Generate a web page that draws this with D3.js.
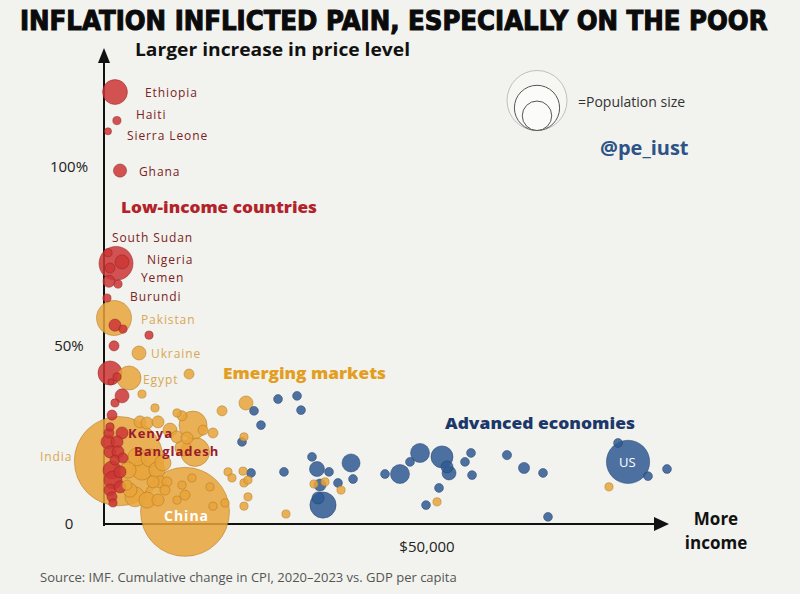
<!DOCTYPE html>
<html><head><meta charset="utf-8">
<script src="https://cdn.jsdelivr.net/npm/d3@7"></script>
<style>
html,body{margin:0;padding:0;background:#f2f2ee;}
svg{display:block;}
</style></head>
<body>
<svg id="chart" width="800" height="594"></svg>
<script>
// ---- DATA: [gdp per capita USD, cumulative CPI change %, population (millions)] ----
const lowIncome = [
  ["Ethiopia",1700,121,110],["Haiti",2000,113,12],["Sierra Leone",620,110,9],["Ghana",2480,99,31],
  ["South Sudan",620,76,12],["Nigeria",1860,73,206],["",2790,73.4,35],["",930,71.7,18],
  ["Yemen",770,68,26],["",2170,67.2,12],["Burundi",460,63.3,12],["",1700,55.7,26],
  ["",2940,54.6,12],["",6970,52.9,12],["",1550,49.9,18],["",930,42.3,103],
  ["",2010,41.2,12],["",1080,39.8,7],["",2790,35.9,35],["",1700,33.9,12],
  ["",1240,30.5,18],["",930,27.2,12],["",770,25.5,18],["Kenya",2790,25.5,26],
  ["",620,23,35],["",2010,23,26],["",930,20.2,26],["",2170,20.2,26],
  ["",1700,17.9,18],["",2940,18.5,18],["Bangladesh",1240,15.1,58],["",2480,14.6,26],
  ["",1390,12.3,58],["",930,9.5,26],["",2480,10.4,26],["",1240,7.6,18],["",1390,5.9,12]
];
const emerging = [
  ["Pakistan",1550,57.7,218],["Ukraine",5420,47.9,35],["Egypt",3870,40.9,103],["",13160,42,18],
  ["",5880,36.4,12],["",7890,32.5,12],["",21980,33.9,35],["",18270,31.7,18],
  ["",16870,25.5,18],["",21670,24.4,12],["",19200,14.6,12],["",19810,12.9,12],
  ["",21520,14.8,12],["",21670,11.5,12],["",22290,12.3,12],["",22290,7.6,12],
  ["",21670,5,12],["",28170,2.8,12],["",32510,11.2,12],["",34210,11.8,12],
  ["",36690,9.5,12],["",51550,6.2,12],["",78170,10.4,12],
  ["India",2320,17.6,1420],["China",12540,3.4,1410],
  ["",13780,27.7,140],["",14090,20.2,150],
  ["",11300,31.1,12],["",12070,30.3,18],["",15330,26.3,18],["",5570,28.6,26],
  ["",6660,28.3,26],["",8360,28.6,26],["",10220,26.3,35],["",11300,24.4,26],
  ["",12850,24.1,26],["",12230,21.3,46],["",5110,18.8,58],["",7120,18.5,58],
  ["",5880,15.1,71],["",8200,15.1,46],["",3720,15.1,46],["",8670,11.8,26],
  ["",7590,11.8,26],["",9750,11.8,18],["",4020,9.5,35],["",4800,7.6,71],
  ["",6660,6.7,46],["",8360,6.7,26],["",9440,9.5,18],["",3560,10.9,18],
  ["",9130,17.1,46],["",12070,10.9,12],["",13620,12.9,12],["",12540,8.1,18],
  ["",11300,6.7,12],["",16410,10.4,12],["",16870,5,12],["",18730,5.9,12]
];
const advanced = [
  ["",23220,31.7,14],["",26940,35,14],["",29880,35.9,14],["",30500,31.9,14],
  ["",24300,27.7,14],["",21360,23,14],["",22760,14.3,14],["",27860,14.6,14],
  ["",32200,18.8,14],["",32970,15.4,40],["",34830,14.6,14],["",38240,17.1,58],
  ["",36220,11.5,14],["",38550,12.6,14],["",33440,10.9,26],["",33130,7.3,26],
  ["Japan",33900,5.3,122],["",43500,14,14],["",45820,14,64],["",47370,17.4,14],
  ["",48920,19.9,64],["",52320,18.8,86],["",53410,14.3,35],["",53100,16,26],
  ["",56810,19.9,14],["",55880,17.4,14],["",56970,13.7,14],["",51860,10.1,14],
  ["",49850,5.3,14],["",62380,19.3,15],["",65020,15.7,22],["",67960,14.3,14],
  ["",68730,2,14],["US",81120,17.4,333],["",79570,22.7,14],["",84210,13.4,14],["",87150,15.4,14]
];
const yTicks = [0, 50, 100];
const yTickLabels = ["0", "50%", "100%"];
const xTicks = [50000];
const xTickLabels = ["$50,000"];
const groupNames = ["Low-income countries", "Emerging markets", "Advanced economies"];
const legendPops = [1410, 800, 340];

// ---- STYLES ----
const colors = {
  low: {fill:"#cd3636", stroke:"#8e1f1f"},
  em:  {fill:"#e9a53b", stroke:"#a8741c"},
  adv: {fill:"#2f5b93", stroke:"#1d3d6a"}
};

const svg = d3.select("#chart");
const x = d3.scaleLinear().domain([0, 50000]).range([104, 427]);
const y = d3.scaleLinear().domain([0, 100]).range([524, 167]);
const r = d3.scaleSqrt().domain([0, 1410]).range([0, 44.5]);

svg.append("rect").attr("width",800).attr("height",594).attr("fill","#f2f2ee");

// Title (horizontally condensed to fit the width via a transform)
const title = svg.append("text").attr("x",0).attr("y",0)
  .style("font-family","'DejaVu Sans', sans-serif").style("font-weight","700")
  .style("font-size","27px").style("fill","#0b0b0b")
  .style("stroke","#0b0b0b").style("stroke-width","1.1")
  .text("INFLATION INFLICTED PAIN, ESPECIALLY ON THE POOR");
const tLen = title.node().getComputedTextLength();
title.attr("transform",`translate(20,30) scale(${748/tLen},1)`);

svg.append("text").attr("x",135).attr("y",56)
  .attr("textLength",275).attr("lengthAdjust","spacingAndGlyphs")
  .style("font-family","'Open Sans', sans-serif").style("font-weight","700")
  .style("font-size","17px").style("fill","#111")
  .text("Larger increase in price level");

// Axes
const ax = svg.append("g");
ax.append("line").attr("x1",x(0)).attr("x2",x(0)).attr("y1",y(0)+2).attr("y2",62)
  .attr("stroke","#111").attr("stroke-width",2);
ax.append("path").attr("d",`M${x(0)-6},63 L${x(0)},48 L${x(0)+6},63 Z`).attr("fill","#111");
ax.append("line").attr("x1",x(0)-1).attr("x2",655).attr("y1",y(0)).attr("y2",y(0))
  .attr("stroke","#111").attr("stroke-width",2);
ax.append("path").attr("d",`M654,${y(0)-7} L669,${y(0)} L654,${y(0)+7} Z`).attr("fill","#111");

svg.append("g").selectAll("text").data(yTicks).join("text")
  .attr("x",69).attr("y",d=>y(d)+5).attr("text-anchor","middle")
  .style("font-family","'Open Sans', sans-serif").style("font-size","15px").style("fill","#222")
  .text((d,i)=>yTickLabels[i]);
svg.append("g").selectAll("text").data(xTicks).join("text")
  .attr("x",d=>x(d)).attr("y",552).attr("text-anchor","middle")
  .style("font-family","'Open Sans', sans-serif").style("font-size","15px").style("fill","#222")
  .text((d,i)=>xTickLabels[i]);

svg.append("text").attr("x",716).attr("y",525).attr("text-anchor","middle")
  .style("font-family","'Open Sans', sans-serif").style("font-weight","700")
  .style("font-size","17px").style("fill","#111").text("More");
svg.append("text").attr("x",716).attr("y",549).attr("text-anchor","middle")
  .style("font-family","'Open Sans', sans-serif").style("font-weight","700")
  .style("font-size","17px").style("fill","#111").text("income");

// Bubbles
const all = [];
lowIncome.forEach(d=>all.push({name:d[0],gdp:d[1],cpi:d[2],pop:d[3],g:"low"}));
emerging.forEach(d=>all.push({name:d[0],gdp:d[1],cpi:d[2],pop:d[3],g:"em"}));
advanced.forEach(d=>all.push({name:d[0],gdp:d[1],cpi:d[2],pop:d[3],g:"adv"}));
all.sort((a,b)=>b.pop-a.pop);

svg.append("g").selectAll("circle").data(all).join("circle")
  .attr("cx",d=>x(d.gdp)).attr("cy",d=>y(d.cpi)).attr("r",d=>r(d.pop))
  .attr("fill",d=>colors[d.g].fill).attr("fill-opacity",0.85)
  .attr("stroke",d=>colors[d.g].stroke).attr("stroke-opacity",0.6).attr("stroke-width",0.8);

// Legend
const lg = svg.append("g");
const lgBottom = 130.5, lgX = 537;
lg.selectAll("circle").data(legendPops).join("circle")
  .attr("cx",lgX).attr("cy",d=>lgBottom - r(d)*30/44.5).attr("r",d=>r(d)*30/44.5)
  .attr("fill",(d,i)=>i===0?"#f6f6f3":"#fbfbfa")
  .attr("stroke",(d,i)=>i===0?"#a8a8a8":"#555").attr("stroke-width",(d,i)=>i===0?0.7:1);
svg.append("text").attr("x",578).attr("y",107)
  .style("font-family","'Open Sans', sans-serif").style("font-size","14px").style("fill","#333")
  .text("=Population size");
svg.append("text").attr("x",600).attr("y",155)
  .style("font-family","'Open Sans', sans-serif").style("font-weight","700")
  .style("font-size","20px").style("fill","#2d5387").text("@pe_iust");

// Group labels
const groupStyle = [
  {x:121,y:213,c:"#b3222b",w:196},
  {x:223,y:379,c:"#e39e22",w:163},
  {x:445,y:429,c:"#1c3769",w:190}
];
svg.append("g").selectAll("text").data(groupNames).join("text")
  .attr("x",(d,i)=>groupStyle[i].x).attr("y",(d,i)=>groupStyle[i].y)
  .attr("textLength",(d,i)=>groupStyle[i].w).attr("lengthAdjust","spacingAndGlyphs")
  .style("font-family","'Open Sans', sans-serif").style("font-weight","800")
  .style("font-size","15px").style("fill",(d,i)=>groupStyle[i].c).text(d=>d);

// Country labels
const countryLabels = [
  {t:"Ethiopia",x:145,y:97,c:"#7a2323"},
  {t:"Haiti",x:136,y:119,c:"#7a2323"},
  {t:"Sierra Leone",x:127,y:140,c:"#7a2323"},
  {t:"Ghana",x:139,y:176,c:"#7a2323"},
  {t:"South Sudan",x:112,y:242,c:"#7a2323"},
  {t:"Nigeria",x:147,y:264,c:"#7a2323"},
  {t:"Yemen",x:141,y:282,c:"#7a2323"},
  {t:"Burundi",x:130,y:301,c:"#7a2323"},
  {t:"Pakistan",x:141,y:324,c:"#d7a855"},
  {t:"Ukraine",x:151,y:358,c:"#d7a855"},
  {t:"Egypt",x:143,y:384,c:"#d7a855"},
  {t:"India",x:40,y:461,c:"#d7a855"}
];
svg.append("g").selectAll("text").data(countryLabels).join("text")
  .attr("x",d=>d.x).attr("y",d=>d.y)
  .style("font-family","'Open Sans', sans-serif").style("font-size","12px")
  .style("letter-spacing","0.9px").style("fill",d=>d.c).text(d=>d.t);

const boldLabels = [
  {t:"Kenya",x:128,y:438,c:"#9b1b2a",s:13},
  {t:"Bangladesh",x:134,y:456,c:"#9b1b2a",s:13},
  {t:"China",x:164,y:521,c:"#ffffff",s:14},
  {t:"US",x:619,y:467,c:"#ffffff",s:13}
];
svg.append("g").selectAll("text").data(boldLabels).join("text")
  .attr("x",d=>d.x).attr("y",d=>d.y)
  .style("font-family","'Open Sans', sans-serif").style("font-weight",d=>d.t==="US"?"400":"700")
  .style("font-size",d=>d.s+"px").style("letter-spacing",d=>d.t==="US"?"0px":"1px")
  .style("fill",d=>d.c).text(d=>d.t);

// Source
svg.append("text").attr("x",40).attr("y",582)
  .style("font-family","'Open Sans', sans-serif").style("font-size","13px").style("fill","#555")
  .text("Source: IMF. Cumulative change in CPI, 2020–2023 vs. GDP per capita");
</script>
</body></html>
